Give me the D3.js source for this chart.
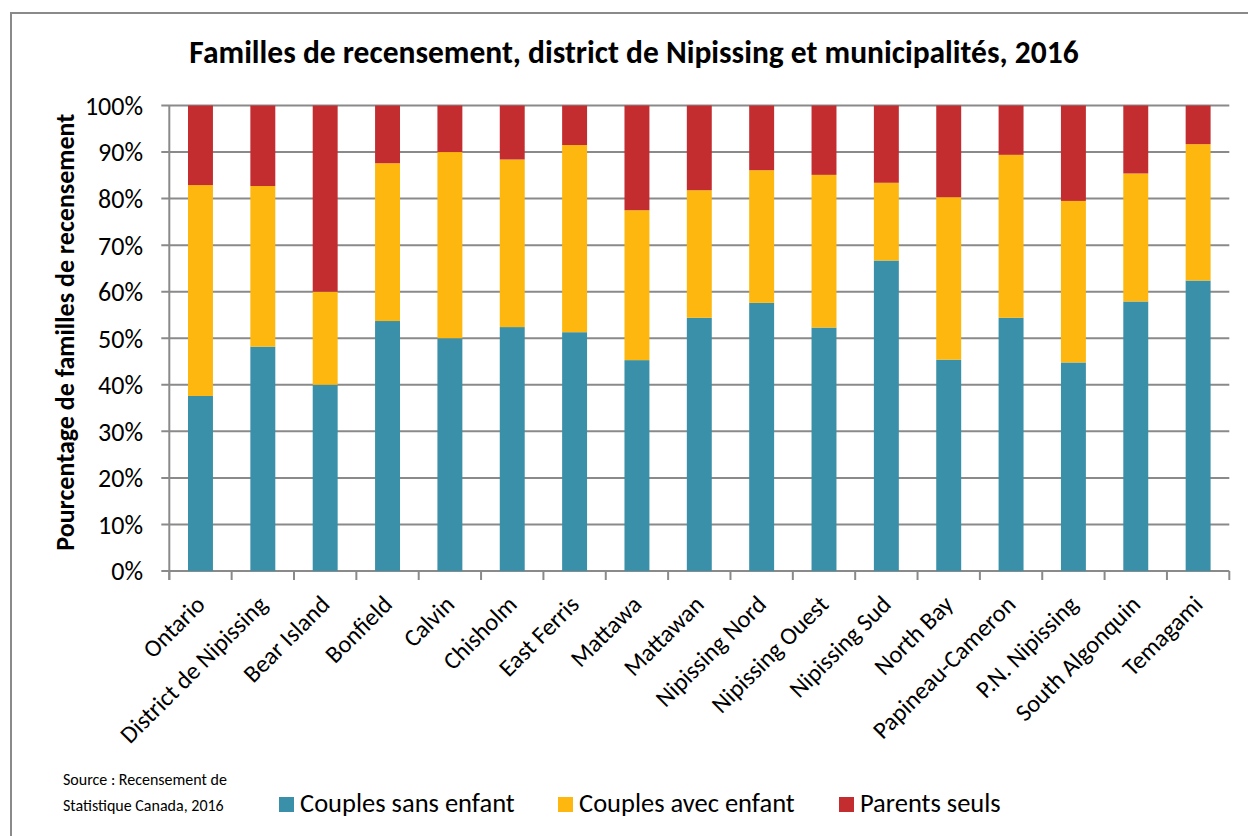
<!DOCTYPE html>
<html>
<head>
<meta charset="utf-8">
<script src="https://cdn.jsdelivr.net/npm/d3@7"></script>
<style>
  html, body { margin: 0; padding: 0; background: #fff; }
  svg { display: block; }
  text { font-family: Carlito, Calibri, Lato, "Open Sans", sans-serif; fill: #000; }
</style>
</head>
<body>
<svg id="chart" width="1248" height="836"></svg>
<script>
const categories = ["Ontario", "District de Nipissing", "Bear Island", "Bonfield", "Calvin", "Chisholm",
  "East Ferris", "Mattawa", "Mattawan", "Nipissing Nord", "Nipissing Ouest", "Nipissing Sud",
  "North Bay", "Papineau-Cameron", "P.N. Nipissing", "South Algonquin", "Temagami"];

const seriesNames = ["Couples sans enfant", "Couples avec enfant", "Parents seuls"];
const seriesColors = ["#3990A8", "#FDB70E", "#C42D30"];

const couplesSansEnfant = [37.6, 48.2, 40.0, 53.7, 50.0, 52.4, 51.3, 45.3, 54.4, 57.6, 52.3, 66.7, 45.4, 54.4, 44.8, 57.9, 62.4];
const couplesAvecEnfant = [45.3, 34.5, 20.0, 33.9, 40.0, 36.0, 40.2, 32.2, 27.4, 28.5, 32.8, 16.7, 34.9, 35.0, 34.7, 27.5, 29.3];
const parentsSeuls      = [17.1, 17.3, 40.0, 12.4, 10.0, 11.6,  8.5, 22.5, 18.2, 13.9, 14.9, 16.6, 19.7, 10.6, 20.5, 14.6,  8.3];

const yTicks = [0, 10, 20, 30, 40, 50, 60, 70, 80, 90, 100];

const titleText = "Familles de recensement, district de Nipissing et municipalités, 2016";
const yAxisTitle = "Pourcentage de familles de recensement";
const sourceLines = ["Source : Recensement de", "Statistique Canada, 2016"];

const svg = d3.select("#chart");

// frame
svg.append("rect").attr("x", 11).attr("y", 13).attr("width", 1260).attr("height", 850)
  .attr("fill", "none").attr("stroke", "#8a8a8a").attr("stroke-width", 2);

const plotLeft = 169.3, plotRight = 1229.3, plotTop = 105.5, plotBottom = 571;

const x = d3.scaleBand().domain(categories).range([plotLeft, plotRight]).paddingInner(0.6).paddingOuter(0.3);
const y = d3.scaleLinear().domain([0, 100]).range([plotBottom, plotTop]);

const rows = categories.map((c, i) => ({
  cat: c,
  [seriesNames[0]]: couplesSansEnfant[i],
  [seriesNames[1]]: couplesAvecEnfant[i],
  [seriesNames[2]]: parentsSeuls[i]
}));
const stacked = d3.stack().keys(seriesNames)(rows);

// gridlines
svg.append("g").selectAll("line").data(yTicks).join("line")
  .attr("x1", plotLeft - 8).attr("x2", plotRight)
  .attr("y1", d => y(d)).attr("y2", d => y(d))
  .attr("stroke", "#8a8a8a").attr("stroke-width", 2);

// y axis line
svg.append("line").attr("x1", plotLeft).attr("x2", plotLeft).attr("y1", plotTop).attr("y2", plotBottom + 9)
  .attr("stroke", "#8a8a8a").attr("stroke-width", 2);

// x axis tick marks at band boundaries
const step = x.step();
const xTickPos = d3.range(categories.length + 1).map(i => plotLeft + i * step);
svg.append("g").selectAll("line").data(xTickPos).join("line")
  .attr("x1", d => d).attr("x2", d => d).attr("y1", plotBottom).attr("y2", plotBottom + 9)
  .attr("stroke", "#8a8a8a").attr("stroke-width", 2);

// bars
svg.append("g").selectAll("g").data(stacked).join("g")
  .attr("fill", (d, i) => seriesColors[i])
  .selectAll("rect").data(d => d).join("rect")
  .attr("x", d => x(d.data.cat))
  .attr("width", x.bandwidth())
  .attr("y", d => y(d[1]))
  .attr("height", d => y(d[0]) - y(d[1]));

// y tick labels
svg.append("g").selectAll("text").data(yTicks).join("text")
  .attr("x", 143).attr("y", d => y(d)).attr("dy", "0.36em")
  .attr("text-anchor", "end").attr("font-size", 26)
  .text(d => d + "%");

// x labels
svg.append("g").selectAll("text").data(categories).join("text")
  .attr("transform", d => `translate(${x(d) + x.bandwidth() / 2 + 6},${606}) rotate(-45)`)
  .attr("text-anchor", "end").attr("font-size", 24.5)
  .text(d => d);

// title
svg.append("text").attr("x", 634).attr("y", 63).attr("text-anchor", "middle")
  .attr("font-size", 31.5).attr("font-weight", "bold").text(titleText);

// y axis title
svg.append("text").attr("transform", `translate(74,${(plotTop + plotBottom) / 2 - 6}) rotate(-90)`)
  .attr("text-anchor", "middle").attr("font-size", 26).attr("font-weight", "bold").text(yAxisTitle);

// source
svg.append("g").selectAll("text").data(sourceLines).join("text")
  .attr("x", 63).attr("y", (d, i) => 785 + i * 26).attr("font-size", 16).text(d => d);

// legend
const legendX = [279, 558, 839];
const lg = svg.append("g").selectAll("g").data(seriesNames).join("g")
  .attr("transform", (d, i) => `translate(${legendX[i]},797)`);
lg.append("rect").attr("width", 15).attr("height", 15).attr("fill", (d, i) => seriesColors[i]);
lg.append("text").attr("x", 21).attr("y", 15).attr("font-size", 26.5).text(d => d);
</script>
</body>
</html>
